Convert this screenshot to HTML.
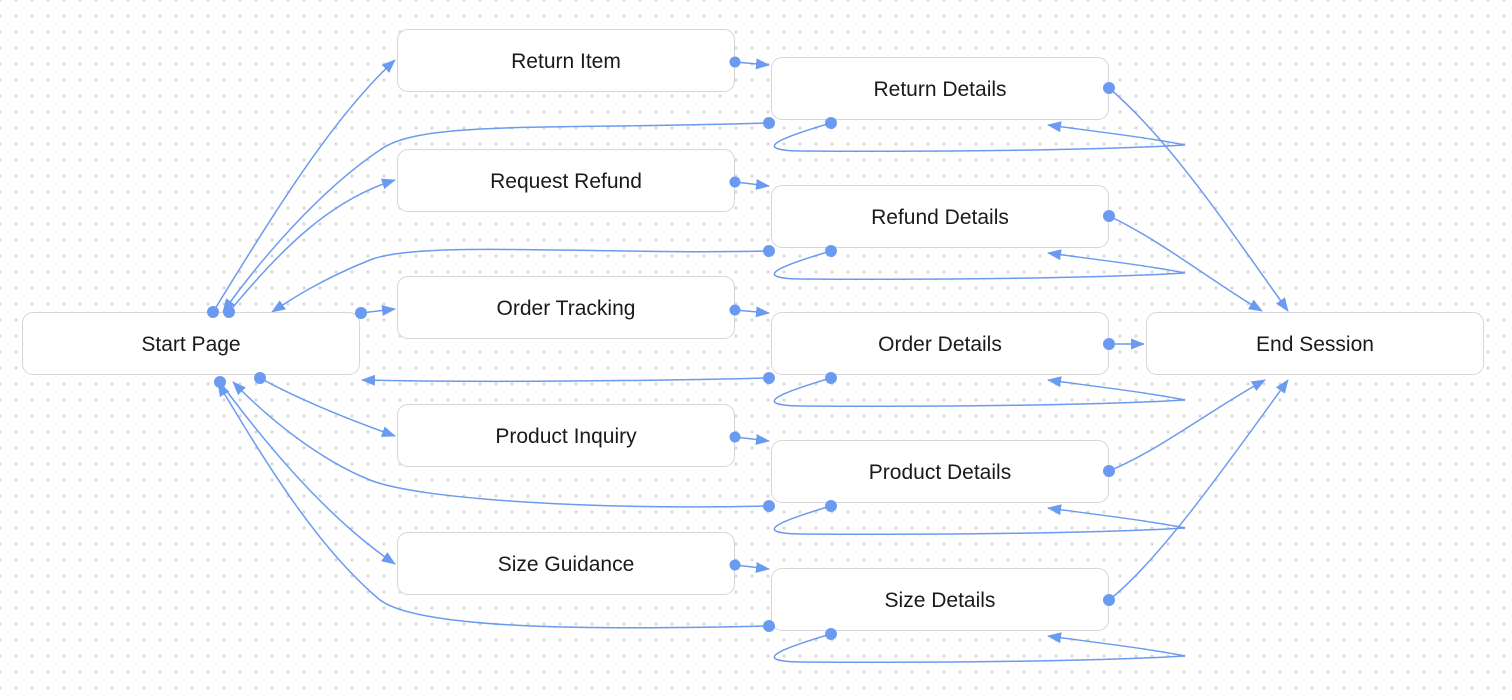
<!DOCTYPE html>
<html><head><meta charset="utf-8"><style>
body{margin:0;width:1512px;height:700px;overflow:hidden;background:#fff;font-family:"Liberation Sans",Arial,sans-serif;}
.bg{position:absolute;left:0;top:0;width:1512px;height:700px;background-image:radial-gradient(circle,#d6d6d6 1.4px,transparent 1.7px);background-size:16px 16px;background-position:-8px -8px;}
.n{position:absolute;width:338px;height:63px;background:#fff;border:1.5px solid #d6d6d9;border-radius:11px;box-sizing:border-box;display:flex;align-items:center;justify-content:center;font-size:21px;color:#1a1a1a;padding-top:3px;}
svg{position:absolute;left:0;top:0;}
</style></head><body>
<div class="bg"></div>
<svg width="1512" height="700" style="z-index:1">
<defs><marker id="a" markerWidth="14" markerHeight="11" refX="13" refY="5.5" orient="auto" markerUnits="userSpaceOnUse"><path d="M0,0 L14,5.5 L0,11 Z" fill="#6b9bf0"/></marker></defs>
<g fill="none" stroke="#6b9bf0" stroke-width="1.5" marker-end="url(#a)">
<path d="M213,312 C270,220 330,120 395,60"/>
<path d="M229,312 C280,250 330,200 395,180"/>
<path d="M361,313 L395,309"/>
<path d="M260,378 C300,400 350,420 395,436"/>
<path d="M220,382 C270,450 330,520 395,564"/>
<path d="M769,123 C550,130 420,120 380,150 C320,190 260,260 223,312"/>
<path d="M769,251 C600,255 420,240 370,260 C320,280 290,300 272,312"/>
<path d="M769,378 C600,382 450,382 362,380"/>
<path d="M769,506 C600,510 420,500 370,480 C320,460 270,420 233,382"/>
<path d="M769,626 C600,630 420,630 380,600 C320,550 270,470 218,383"/>
<path d="M735,62 L769,65"/><path d="M735,182 L769,186"/><path d="M735,310 L769,313"/><path d="M735,437 L769,441"/><path d="M735,565 L769,569"/>
<path d="M831,123 C780,138 750,150 800,151 C950,152 1100,150 1185,145 C1150,138 1100,132 1048,125"/>
<path d="M831,251 C780,266 750,278 800,279 C950,280 1100,278 1185,273 C1150,266 1100,260 1048,253"/>
<path d="M831,378 C780,393 750,405 800,406 C950,407 1100,405 1185,400 C1150,393 1100,387 1048,380"/>
<path d="M831,506 C780,521 750,533 800,534 C950,535 1100,533 1185,528 C1150,521 1100,515 1048,508"/>
<path d="M831,634 C780,649 750,661 800,662 C950,663 1100,661 1185,656 C1150,649 1100,643 1048,636"/>
<path d="M1109,88 C1170,140 1230,230 1288,311"/>
<path d="M1109,216 C1160,240 1210,280 1262,311"/>
<path d="M1109,344 L1144,344"/>
<path d="M1109,471 C1160,450 1210,410 1265,380"/>
<path d="M1109,600 C1160,560 1230,460 1288,380"/>
</g>
</svg>
<div class="n" style="left:22px;top:312px;z-index:2">Start Page</div>
<div class="n" style="left:397px;top:29px;z-index:2">Return Item</div>
<div class="n" style="left:397px;top:149px;z-index:2">Request Refund</div>
<div class="n" style="left:397px;top:276px;z-index:2">Order Tracking</div>
<div class="n" style="left:397px;top:404px;z-index:2">Product Inquiry</div>
<div class="n" style="left:397px;top:532px;z-index:2">Size Guidance</div>
<div class="n" style="left:771px;top:57px;z-index:2">Return Details</div>
<div class="n" style="left:771px;top:185px;z-index:2">Refund Details</div>
<div class="n" style="left:771px;top:312px;z-index:2">Order Details</div>
<div class="n" style="left:771px;top:440px;z-index:2">Product Details</div>
<div class="n" style="left:771px;top:568px;z-index:2">Size Details</div>
<div class="n" style="left:1146px;top:312px;z-index:2">End Session</div>
<svg width="1512" height="700" style="z-index:3">
<g fill="#6b9bf0">
<circle cx="213" cy="312" r="6"/><circle cx="229" cy="312" r="6"/><circle cx="361" cy="313" r="6"/><circle cx="260" cy="378" r="6"/><circle cx="220" cy="382" r="6"/>
<circle cx="735" cy="62" r="5.5"/><circle cx="735" cy="182" r="5.5"/><circle cx="735" cy="310" r="5.5"/><circle cx="735" cy="437" r="5.5"/><circle cx="735" cy="565" r="5.5"/>
<circle cx="769" cy="123" r="6"/><circle cx="769" cy="251" r="6"/><circle cx="769" cy="378" r="6"/><circle cx="769" cy="506" r="6"/><circle cx="769" cy="626" r="6"/>
<circle cx="831" cy="123" r="6"/><circle cx="831" cy="251" r="6"/><circle cx="831" cy="378" r="6"/><circle cx="831" cy="506" r="6"/><circle cx="831" cy="634" r="6"/>
<circle cx="1109" cy="88" r="6"/><circle cx="1109" cy="216" r="6"/><circle cx="1109" cy="344" r="6"/><circle cx="1109" cy="471" r="6"/><circle cx="1109" cy="600" r="6"/>
</g></svg>
</body></html>
